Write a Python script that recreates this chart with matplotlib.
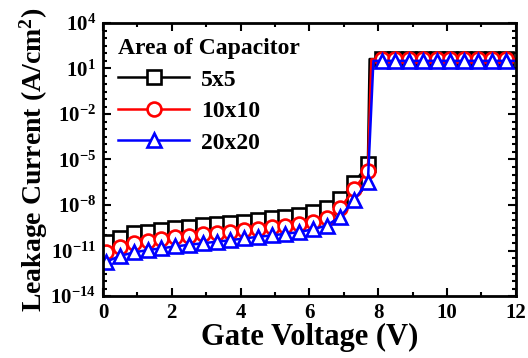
import matplotlib
matplotlib.use("Agg")
import matplotlib.pyplot as plt
from matplotlib.ticker import FixedLocator, MultipleLocator
import numpy as np

plt.rcParams['font.family'] = 'Liberation Serif'
plt.rcParams['font.weight'] = 'bold'
plt.rcParams['mathtext.fontset'] = 'custom'
plt.rcParams['mathtext.rm'] = 'Liberation Serif:bold'
plt.rcParams['mathtext.bf'] = 'Liberation Serif:bold'
plt.rcParams['mathtext.it'] = 'Liberation Serif:bold:italic'
plt.rcParams['mathtext.default'] = 'rm'

# gate voltage of marked points
v_low = [0.1, 0.5, 0.9, 1.3, 1.7, 2.1, 2.5, 2.9, 3.3, 3.7, 4.1, 4.5, 4.9,
         5.3, 5.7, 6.1, 6.5, 6.9, 7.3, 7.7]
v_high = [8.1, 8.5, 8.9, 9.3, 9.7, 10.1, 10.5, 10.9, 11.3, 11.7]

# log10 of leakage current (A/cm^2) below breakdown
log_5x5 = [-10.42, -10.2, -9.86, -9.76, -9.65, -9.53, -9.43, -9.32, -9.27, -9.2,
           -9.1, -9.0, -8.87, -8.77, -8.66, -8.44, -8.22, -7.62, -6.57, -5.3]
log_10x10 = [-11.07, -10.75, -10.5, -10.35, -10.25, -10.13, -10.02, -9.92, -9.84, -9.75,
             -9.65, -9.57, -9.47, -9.38, -9.27, -9.1, -8.85, -8.2, -6.96, -5.73]
log_20x20 = [-11.73, -11.35, -11.12, -10.97, -10.85, -10.73, -10.62, -10.52, -10.42, -10.32,
             -10.2, -10.1, -10.0, -9.9, -9.78, -9.6, -9.35, -8.77, -7.67, -6.46]

# breakdown voltage and compliance level (log10)
v_break = {'5x5': 7.75, '10x10': 7.8, '20x20': 7.86}
log_high = {'5x5': 1.62, '10x10': 1.6, '20x20': 1.5}

series = [('5x5', log_5x5, 'black', 's'),
          ('10x10', log_10x10, 'red', 'o'),
          ('20x20', log_20x20, 'blue', '^')]

fig = plt.figure(figsize=(5.28, 3.58), dpi=100)
ax = fig.add_axes([0.195, 0.173, 0.782, 0.763])

for name, low, col, mk in series:
    x = v_low + [v_break[name]] + v_high + [12.0]
    y = list(10.0 ** np.array(low)) + [10 ** log_high[name]] * (len(v_high) + 2)
    marks = list(range(len(v_low))) + list(range(len(v_low) + 1, len(v_low) + 1 + len(v_high)))
    ax.plot(x, y, color=col, marker=mk, markevery=marks, markersize=10,
            markerfacecolor='white', markeredgecolor=col, markeredgewidth=1.9,
            linewidth=1.8, label=name)

ax.set_yscale('log')
ax.set_xlim(0, 12)
ax.set_ylim(1e-14, 1e4)
ax.xaxis.set_major_locator(MultipleLocator(2))
ax.xaxis.set_minor_locator(MultipleLocator(1))
ax.yaxis.set_major_locator(FixedLocator([10.0 ** k for k in range(-14, 5, 3)]))
ax.yaxis.set_minor_locator(FixedLocator([m * 10.0 ** k for k in range(-14, 4) for m in (1, 3)]))
ax.tick_params(which='both', direction='in', top=True, right=True, width=1.5)
ax.tick_params(which='major', length=6, labelsize=15, pad=5)
ax.tick_params(which='minor', length=3)
ax.yaxis.set_minor_formatter(plt.NullFormatter())
for s in ax.spines.values():
    s.set_linewidth(2)

ax.set_xlabel('Gate Voltage (V)', fontsize=22, fontweight='bold', labelpad=0)
ax.set_ylabel('Leakage Current (A/cm$^2$)', fontsize=20, fontweight='bold', labelpad=0)

leg = ax.legend(title='Area of Capacitor', loc='upper left', frameon=False,
                fontsize=17, title_fontproperties={'weight': 'bold', 'size': 17},
                handlelength=3.0, handletextpad=0.5, labelspacing=0.42,
                borderaxespad=0.35, borderpad=0.3, alignment='left')

fig.savefig('out.png', dpi=100)
